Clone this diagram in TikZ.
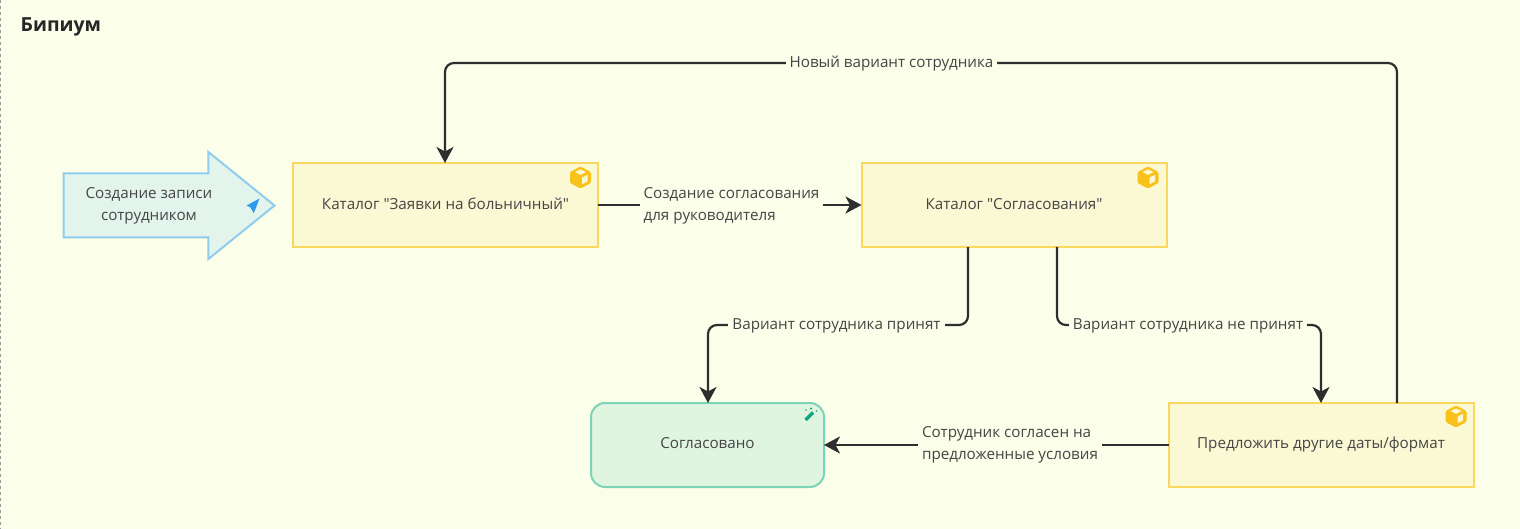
\documentclass[tikz,border=0pt]{standalone}
\usepackage{fontspec}
\setmainfont{Open Sans}[Ligatures=TeXOff]
\usetikzlibrary{arrows.meta,shapes.arrows,calc}
\definecolor{bgc}{HTML}{FBFFEA}
\definecolor{txt}{HTML}{454545}
\definecolor{lnc}{HTML}{2E2E2E}
\definecolor{yfill}{HTML}{FBF8D4}
\definecolor{yline}{HTML}{FAD75E}
\definecolor{gfill}{HTML}{E0F5E0}
\definecolor{gline}{HTML}{7DD3B5}
\definecolor{bfill}{HTML}{E3F4EC}
\definecolor{bline}{HTML}{8FCDEE}
\definecolor{cube}{HTML}{F9C21A}
\definecolor{plane}{HTML}{2F9BE8}
\definecolor{wand}{HTML}{12A583}
\tikzset{
  x=1pt,y=-1pt,
  body/.style={font=\fontsize{15.2}{22}\selectfont,text=txt,align=center},
  catbox/.style={body,draw=yline,fill=yfill,line width=2pt,minimum width=305pt,minimum height=84pt,inner sep=0pt,outer sep=0pt,text height=13pt,text depth=3pt},
  lowbox/.style={text height=9pt,text depth=3pt},
  donebox/.style={body,draw=gline,fill=gfill,line width=2pt,minimum width=233pt,minimum height=84pt,rounded corners=14pt,inner sep=0pt,outer sep=0pt,lowbox},
  conn/.style={draw=lnc,line width=2.2pt,rounded corners=9pt},
  tipped/.style={conn,-{Stealth[length=16pt,width=17pt,inset=4.5pt]}},
  lbl/.style={body,fill=bgc,inner xsep=4pt,inner ysep=1pt},
}
\newcommand{\cubeicon}[1]{%
  \fill[cube,rounded corners=1.5pt] ($(#1)+(0,-11)$) -- ++(10.5,5.5) -- ++(0,11) -- ++(-10.5,5.5) -- ++(-10.5,-5.5) -- ++(0,-11) -- cycle;
  \fill[yfill] ($(#1)+(-5.5,-5.5)$) -- ++(5.5,-2.5) -- ++(5.5,2.5) -- ++(-5.5,2.8) -- cycle;
  \fill[yfill] ($(#1)+(1.5,0)$) -- ++(5.5,-2.6) -- ++(0,6.5) -- ++(-5.5,2.8) -- cycle;
}
\begin{document}
\begin{tikzpicture}
\useasboundingbox (0,0) rectangle (1520,529);
\fill[bgc] (0,0) rectangle (1520,529);
\draw[gray!80,line width=1.2pt,dash pattern=on 3pt off 3pt] (0.6,0) -- (0.6,529);
\node[font=\fontsize{19.4}{22}\selectfont\bfseries,text=black!85,anchor=west,inner sep=0pt] (title) at (20.5,27) {Бипиум};

\node[single arrow,draw=bline,fill=bfill,line width=2pt,minimum width=105pt,minimum height=211pt,
      single arrow head extend=21.5pt,single arrow tip angle=78,single arrow head indent=0pt,
      inner sep=0pt,outer sep=0pt,anchor=tail] (start) at (63.5,205.5) {\rule{0pt}{62pt}};
\node[body,inner sep=0pt] (starttext) at (149,205.5) {Создание записи\\сотрудником};
\fill[plane] (259.5,198.5) -- (246.5,205.5) -- (250.5,207.5) -- (253.5,213) -- (255.5,209) -- cycle;

\node[catbox] (zayavki) at (445.5,205) {Каталог "Заявки на больничный"};
\node[catbox] (soglas) at (1014,205) {Каталог "Согласования"};
\node[catbox,lowbox] (other) at (1321,445) {Предложить другие даты/формат};
\node[donebox] (done) at (707.5,445) {Согласовано};

\cubeicon{580.5,177.5}
\cubeicon{1148,177.5}
\cubeicon{1456,416.5}
% wand
\draw[wand,line width=3.4pt] (805.5,420) -- (813,412.5);
\fill[wand] (811,408.5) circle (1.1pt) (816.5,411) circle (0.9pt) (806,410) circle (0.9pt);

\coordinate (a1) at (968,247);
\coordinate (a2) at (968,325);
\coordinate (a3) at (708,325);
\coordinate (b1) at (1057,247);
\coordinate (b2) at (1057,325);
\coordinate (b3) at (1321,325);
\coordinate (c1) at (1397,403);
\coordinate (c2) at (1397,63);
\coordinate (c3) at (445,63);

\draw[tipped] (zayavki.east) -- (soglas.west);
\draw[tipped] (a1) -- (a2) -- (a3) -- (a3 |- done.north);
\draw[tipped] (b1) -- (b2) -- (b3) -- (other.north);
\draw[tipped] (other.west) -- (done.east);
\draw[tipped] (c1) -- (c2) -- (c3) -- (c3 |- zayavki.north);

\node[lbl,align=left] (l1) at (731.5,206) {Создание согласования\\для руководителя};
\node[lbl] (l2) at (836.5,326) {Вариант сотрудника принят};
\node[lbl] (l3) at (1188,326) {Вариант сотрудника не принят};
\node[lbl,align=left] (l4) at (1010,444.5) {Сотрудник согласен на\\предложенные условия};
\node[lbl] (l5) at (891.5,63.5) {Новый вариант сотрудника};
\end{tikzpicture}
\end{document}
